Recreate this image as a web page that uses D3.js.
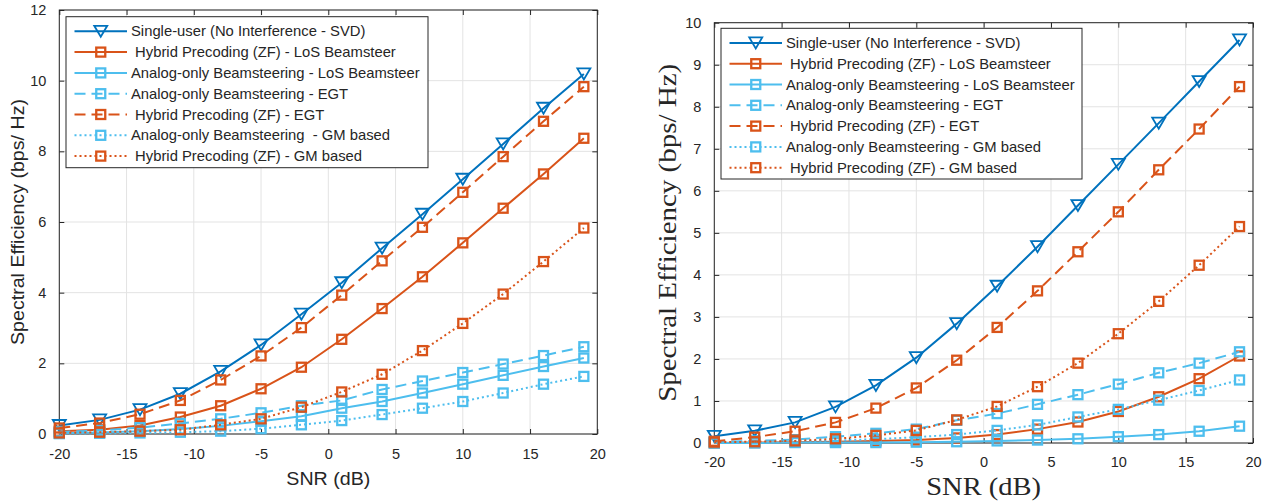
<!DOCTYPE html>
<html><head><meta charset="utf-8">
<script src="https://cdn.jsdelivr.net/npm/d3@7"></script>
<style>
html,body{margin:0;padding:0;background:#fff;}
svg{display:block;}
text{fill:#262626;}
</style></head>
<body>
<svg id="chart" width="1274" height="504"></svg>
<script>
// ---------- data ----------
const snr = [-20,-17,-14,-11,-8,-5,-2,1,4,7,10,13,16,19];

const legendLabelsLeft = [
  "Single-user (No Interference - SVD)",
  "\u00A0Hybrid Precoding (ZF) - LoS Beamsteer",
  "Analog-only Beamsteering - LoS Beamsteer",
  "Analog-only Beamsteering - EGT",
  "\u00A0Hybrid Precoding (ZF) - EGT",
  "Analog-only Beamsteering \u00A0- GM based",
  "\u00A0Hybrid Precoding (ZF) - GM based"
];
const legendLabelsRight = [
  "Single-user (No Interference - SVD)",
  "\u00A0Hybrid Precoding (ZF) - LoS Beamsteer",
  "Analog-only Beamsteering - LoS Beamsteer",
  "Analog-only Beamsteering - EGT",
  "\u00A0Hybrid Precoding (ZF) - EGT",
  "Analog-only Beamsteering - GM based",
  "\u00A0Hybrid Precoding (ZF) - GM based"
];

const leftSingleUser = [0.24,0.40,0.69,1.14,1.77,2.52,3.39,4.28,5.26,6.22,7.21,8.21,9.22,10.19];
const leftHybridLoS  = [0.08,0.12,0.24,0.48,0.80,1.28,1.89,2.68,3.55,4.45,5.41,6.39,7.36,8.37];
const leftAnalogLoS  = [0.02,0.04,0.08,0.14,0.23,0.36,0.50,0.73,0.92,1.16,1.41,1.66,1.91,2.15];
const leftAnalogEGT  = [0.06,0.10,0.18,0.30,0.43,0.60,0.80,0.95,1.26,1.50,1.74,1.98,2.22,2.47];
const leftHybridEGT  = [0.17,0.31,0.56,0.95,1.53,2.21,3.01,3.93,4.90,5.85,6.84,7.85,8.85,9.83];
const leftAnalogGM   = [0.01,0.02,0.03,0.05,0.08,0.15,0.26,0.38,0.55,0.73,0.92,1.16,1.41,1.63];
const leftHybridGM   = [0.03,0.05,0.08,0.12,0.26,0.43,0.76,1.19,1.69,2.36,3.13,3.96,4.88,5.83];

const rightSingleUser = [0.16,0.29,0.49,0.86,1.37,2.03,2.84,3.73,4.67,5.65,6.63,7.61,8.60,9.59];
const rightHybridLoS  = [0.00,0.01,0.02,0.03,0.05,0.07,0.12,0.20,0.33,0.50,0.75,1.10,1.53,2.07];
const rightAnalogLoS  = [0.00,0.00,0.01,0.01,0.01,0.02,0.03,0.05,0.07,0.10,0.15,0.20,0.28,0.40];
const rightAnalogEGT  = [0.03,0.05,0.08,0.15,0.23,0.33,0.54,0.70,0.92,1.15,1.40,1.67,1.90,2.17];
const rightHybridEGT  = [0.04,0.14,0.28,0.49,0.83,1.31,1.97,2.75,3.62,4.55,5.50,6.50,7.47,8.48];
const rightAnalogGM   = [0.01,0.02,0.04,0.06,0.09,0.14,0.20,0.30,0.43,0.62,0.80,1.02,1.25,1.50];
const rightHybridGM   = [0.02,0.03,0.05,0.10,0.18,0.30,0.55,0.87,1.34,1.90,2.60,3.37,4.23,5.15];

const xTicks = [-20,-15,-10,-5,0,5,10,15,20];
const yTicksLeft = [0,2,4,6,8,10,12];
const yTicksRight = [0,1,2,3,4,5,6,7,8,9,10];

// ---------- styles ----------
const BLUE = "#0072BD", ORANGE = "#D95319", LIGHT = "#4DBEEE";
const seriesStyle = [
  {color: BLUE,   dash: null,   marker: "tri"},
  {color: ORANGE, dash: null,   marker: "sq"},
  {color: LIGHT,  dash: null,   marker: "sq"},
  {color: LIGHT,  dash: "11,6", marker: "sq"},
  {color: ORANGE, dash: "11,6", marker: "sq"},
  {color: LIGHT,  dash: "2,3",  marker: "sq"},
  {color: ORANGE, dash: "2,3",  marker: "sq"}
];

const SANS = "'Liberation Sans', Arial, Helvetica, sans-serif";
const SERIF = "'Liberation Serif', 'Times New Roman', serif";

const svg = d3.select("#chart");

function drawMarker(g, type, color, cx, cy) {
  if (type === "tri") {
    const w = 13, h = 11;
    g.append("path")
      .attr("d", `M${cx - w/2},${cy - h/2}L${cx + w/2},${cy - h/2}L${cx},${cy + h/2}Z`)
      .attr("fill", "none").attr("stroke", color).attr("stroke-width", 1.8);
  } else {
    const s = 9;
    g.append("rect")
      .attr("x", cx - s/2).attr("y", cy - s/2).attr("width", s).attr("height", s)
      .attr("fill", "none").attr("stroke", color).attr("stroke-width", 2.3);
  }
}

const plainFmt = d => String(d);

function drawChart(cfg) {
  const g = svg.append("g");
  const x = d3.scaleLinear().domain([-20, 20]).range([cfg.left, cfg.right]);
  const y = d3.scaleLinear().domain([0, cfg.yMax]).range([cfg.bottom, cfg.top]);

  // grid
  const grid = g.append("g");
  xTicks.forEach(t => grid.append("line")
    .attr("x1", x(t)).attr("x2", x(t)).attr("y1", cfg.top).attr("y2", cfg.bottom)
    .attr("stroke", "#e3e3e3").attr("stroke-width", 1));
  cfg.yTicks.forEach(t => grid.append("line")
    .attr("x1", cfg.left).attr("x2", cfg.right).attr("y1", y(t)).attr("y2", y(t))
    .attr("stroke", "#e3e3e3").attr("stroke-width", 1));

  // axes via d3 axes (inner ticks)
  const tl = 5;
  const axB = g.append("g").attr("transform", `translate(0,${cfg.bottom})`)
    .call(d3.axisBottom(x).tickValues(xTicks).tickFormat(plainFmt).tickSizeInner(-tl).tickSizeOuter(0));
  const axT = g.append("g").attr("transform", `translate(0,${cfg.top})`)
    .call(d3.axisTop(x).tickValues(xTicks).tickSizeInner(-tl).tickSizeOuter(0).tickFormat(""));
  const axL = g.append("g").attr("transform", `translate(${cfg.left},0)`)
    .call(d3.axisLeft(y).tickValues(cfg.yTicks).tickFormat(plainFmt).tickSizeInner(-tl).tickSizeOuter(0).tickPadding(tl + 8));
  const axR = g.append("g").attr("transform", `translate(${cfg.right},0)`)
    .call(d3.axisRight(y).tickValues(cfg.yTicks).tickSizeInner(-tl).tickSizeOuter(0).tickFormat(""));
  [axB, axT, axL, axR].forEach(a => {
    a.select(".domain").remove();
    a.selectAll("line").attr("stroke", "#262626");
    a.selectAll("text").attr("font-family", SANS).attr("font-size", cfg.tickFont).attr("fill", "#262626");
  });
  axB.selectAll("text").attr("dy", "0.35em").attr("y", cfg.xLabelOffset);

  // box
  g.append("rect").attr("x", cfg.left).attr("y", cfg.top)
    .attr("width", cfg.right - cfg.left).attr("height", cfg.bottom - cfg.top)
    .attr("fill", "none").attr("stroke", "#262626").attr("stroke-width", 1);

  // series
  const line = d3.line().x((d, i) => x(snr[i])).y(d => y(d));
  cfg.series.forEach((vals, si) => {
    const st = seriesStyle[si];
    const sg = g.append("g");
    sg.append("path").attr("d", line(vals)).attr("fill", "none")
      .attr("stroke", st.color).attr("stroke-width", 2)
      .attr("stroke-dasharray", st.dash);
    vals.forEach((v, i) => drawMarker(sg, st.marker, st.color, x(snr[i]), y(v)));
  });

  // legend
  const lg = g.append("g");
  lg.append("rect").attr("x", cfg.leg.x).attr("y", cfg.leg.y)
    .attr("width", cfg.leg.w).attr("height", cfg.leg.h)
    .attr("fill", "#fff").attr("stroke", "#262626").attr("stroke-width", 1);
  cfg.labels.forEach((lab, i) => {
    const st = seriesStyle[i];
    const cy = cfg.leg.y + 14.6 + i * 20.8;
    const x0 = cfg.leg.x + 8.5, x1 = cfg.leg.x + 61;
    lg.append("line").attr("x1", x0).attr("x2", x1).attr("y1", cy).attr("y2", cy)
      .attr("stroke", st.color).attr("stroke-width", 2).attr("stroke-dasharray", st.dash);
    drawMarker(lg, st.marker, st.color, (x0 + x1) / 2, cy);
    lg.append("text").attr("x", cfg.leg.x + 65).attr("y", cy).attr("dy", "0.35em")
      .attr("font-family", SANS).attr("font-size", cfg.legFont).text(lab);
  });

  // axis titles
  g.append("text").attr("x", (cfg.left + cfg.right) / 2).attr("y", cfg.xTitleY)
    .attr("text-anchor", "middle").attr("font-family", cfg.titleFont)
    .attr("font-size", cfg.titleSize)
    .attr("textLength", cfg.xTitleLen).attr("lengthAdjust", "spacingAndGlyphs")
    .text("SNR (dB)");
  g.append("text")
    .attr("transform", `translate(${cfg.yTitleX},${(cfg.top + cfg.bottom) / 2}) rotate(-90)`)
    .attr("text-anchor", "middle").attr("font-family", cfg.titleFont)
    .attr("font-size", cfg.titleSize)
    .attr("textLength", cfg.yTitleLen).attr("lengthAdjust", "spacingAndGlyphs")
    .text("Spectral Efficiency (bps/ Hz)");
}

drawChart({
  left: 59.3, right: 597.3, top: 10, bottom: 434, yMax: 12, yTicks: yTicksLeft,
  tickFont: 14.5, legFont: 14.8, xLabelOffset: 20,
  series: [leftSingleUser, leftHybridLoS, leftAnalogLoS, leftAnalogEGT, leftHybridEGT, leftAnalogGM, leftHybridGM],
  labels: legendLabelsLeft,
  leg: {x: 66, y: 16.7, w: 362, h: 151},
  titleFont: SANS, titleSize: 19, xTitleY: 485, xTitleLen: 84, yTitleX: 24, yTitleLen: 246
});

drawChart({
  left: 714.3, right: 1253, top: 22.7, bottom: 443, yMax: 10, yTicks: yTicksRight,
  tickFont: 14.5, legFont: 14.8, xLabelOffset: 19,
  series: [rightSingleUser, rightHybridLoS, rightAnalogLoS, rightAnalogEGT, rightHybridEGT, rightAnalogGM, rightHybridGM],
  labels: legendLabelsRight,
  leg: {x: 721, y: 28.3, w: 361, h: 150.7},
  titleFont: SERIF, titleSize: 26, xTitleY: 495, xTitleLen: 115, yTitleX: 676, yTitleLen: 338
});
</script>
</body></html>
